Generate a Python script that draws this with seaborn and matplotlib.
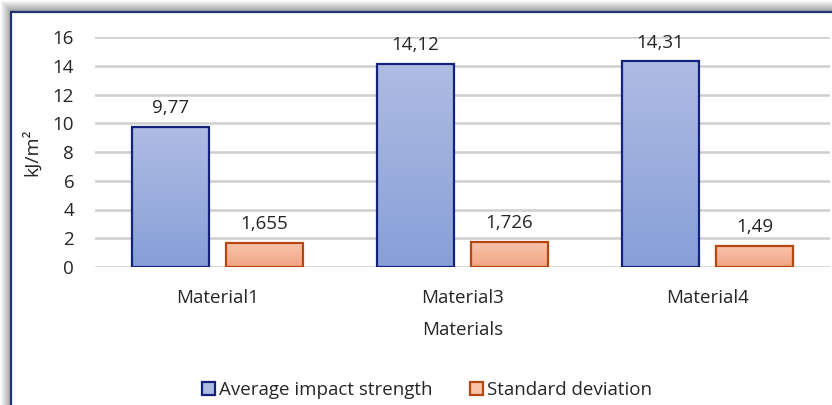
import numpy as np
import pandas as pd
import matplotlib
matplotlib.use("Agg")
import matplotlib.pyplot as plt
import matplotlib.patches as mpatches
from matplotlib.colors import LinearSegmentedColormap
import seaborn as sns

materials = ["Material1", "Material3", "Material4"]
avg_strength = [9.77, 14.12, 14.31]
std_dev = [1.655, 1.726, 1.49]
series_names = ["Average impact strength", "Standard deviation"]
y_ticks = [0, 2, 4, 6, 8, 10, 12, 14, 16]

df = pd.DataFrame({
    "Material": materials * 2,
    "value": avg_strength + std_dev,
    "Series": [series_names[0]] * 3 + [series_names[1]] * 3,
})

sns.set_theme(style="white")
plt.rcParams["font.family"] = ["Open Sans", "DejaVu Sans"]
TXT = "#262626"
FS = 13.5

W, H = 832, 405
fig = plt.figure(figsize=(W / 100, H / 100), dpi=100)
fig.patch.set_facecolor("white")

# frame shadow + border
for i in range(11):
    g = 1.0 - 0.035 * i
    r = mpatches.Rectangle((i / W, -20 / H), (W + 40 - i) / W, (H + 20 - i) / H,
                           transform=fig.transFigure, fill=False,
                           edgecolor=(g, g, g), linewidth=1.0, zorder=-2)
    fig.patches.append(r)
frame = mpatches.Rectangle((11 / W, -20 / H), (W + 40) / W, (H + 20 - 12) / H,
                           transform=fig.transFigure, facecolor="white",
                           edgecolor="#1f3472", linewidth=1.6, zorder=-1)
fig.patches.append(frame)

ax = fig.add_axes([95 / W, (H - 267) / H, (830 - 95) / W, 230 / H])
ax.set_zorder(2)
ax.set_facecolor("none")

blue_face = "#9aacdc"
orange_face = "#f4b394"
sns.barplot(data=df, x="Material", y="value", hue="Series", hue_order=series_names,
            palette=[blue_face, orange_face], width=0.768, gap=0.18, ax=ax,
            linewidth=1.6, zorder=3, legend=False)

edge_cols = ["#13237a", "#b8460f"]
grads = [("#aebce3", "#889fd8"), ("#f7c4ab", "#f2a584")]
for cont, ec, (ctop, cbot), vals in zip(ax.containers, edge_cols, grads, [avg_strength, std_dev]):
    cmap = LinearSegmentedColormap.from_list("g", [cbot, ctop])
    for p in cont.patches:
        p.set_edgecolor(ec)
        p.set_linewidth(1.6)
        x0, y0 = p.get_x(), p.get_y()
        w, h = p.get_width(), p.get_height()
        im = ax.imshow(np.linspace(0, 1, 64).reshape(-1, 1), cmap=cmap, aspect="auto",
                       origin="lower", extent=[x0, x0 + w, y0, y0 + h], zorder=3.5)
        im.set_clip_path(p)
        p.set_facecolor("none")
        p.set_zorder(4)
    ax.bar_label(cont, labels=[str(v).replace(".", ",") for v in vals], padding=7,
                 fontsize=FS, color=TXT)

ax.set_xlim(-0.5, 2.5)
ax.set_ylim(0, 16)
ax.set_yticks(y_ticks)
ax.yaxis.grid(True, color="#cfcfcf", linewidth=1.8, zorder=0)
ax.set_axisbelow(True)
for s in ax.spines.values():
    s.set_visible(False)
ax.tick_params(axis="both", length=0, labelsize=FS, colors=TXT)
ax.tick_params(axis="y", pad=15)
ax.tick_params(axis="x", pad=16)
ax.set_xlabel("Materials", fontsize=FS, color=TXT, labelpad=10)
ax.set_ylabel("kJ/m²", fontsize=14, color=TXT, labelpad=8)

handles = [mpatches.Patch(facecolor=grads[i][0], edgecolor=edge_cols[i], linewidth=1.6,
                          label=series_names[i]) for i in range(2)]
fig.legend(handles=handles, loc="center", bbox_to_anchor=(427 / W, (H - 390) / H),
           ncol=2, frameon=False, fontsize=FS, handlelength=0.7, handleheight=0.7,
           handletextpad=0.2, columnspacing=2.0, labelcolor=TXT)

fig.savefig("out.png", dpi=100)
